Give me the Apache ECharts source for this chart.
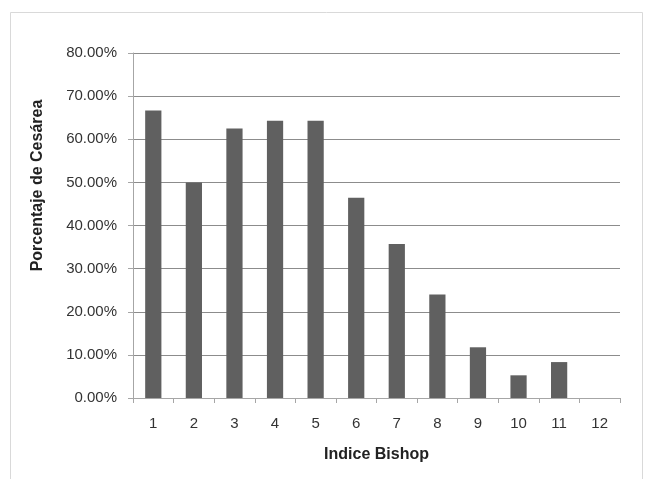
<!DOCTYPE html>
<html>
<head>
<meta charset="utf-8">
<script src="https://cdn.jsdelivr.net/npm/echarts@6/dist/echarts.min.js"></script>
<style>
  html, body { margin: 0; padding: 0; background: #fff; }
  #chart { width: 653px; height: 479px; }
</style>
</head>
<body>
<div id="chart"></div>
<script>
// Bishop score categories and caesarean rate (%) for each
const categories = ['1', '2', '3', '4', '5', '6', '7', '8', '9', '10', '11', '12'];
const cesareaPct = [66.67, 50.0, 62.5, 64.29, 64.29, 46.43, 35.71, 24.0, 11.76, 5.26, 8.33, 0];
const xTitle = 'Indice Bishop';
const yTitle = 'Porcentaje de Cesárea';

const font = '"Liberation Sans", Arial, sans-serif';
const chart = echarts.init(document.getElementById('chart'), null, { renderer: 'canvas' });

chart.setOption({
  animation: false,
  backgroundColor: '#fff',
  graphic: [{
    type: 'rect',
    shape: { x: 10.5, y: 12.5, width: 632, height: 480 },
    style: { fill: 'none', stroke: '#d9d9d9', lineWidth: 1 },
    silent: true
  }],
  grid: { left: 133, right: 33, top: 53, bottom: 81 },
  xAxis: {
    type: 'category',
    data: categories,
    name: xTitle,
    nameLocation: 'middle',
    nameGap: 49,
    nameTextStyle: { fontFamily: font, fontSize: 16, fontWeight: 'bold', color: '#222' },
    axisLine: { lineStyle: { color: '#a6a6a6', width: 1 } },
    axisTick: { show: true, length: 5, lineStyle: { color: '#a6a6a6' } },
    axisLabel: { fontFamily: font, fontSize: 15, color: '#333', margin: 18 },
    splitLine: { show: false }
  },
  yAxis: {
    type: 'value',
    min: 0,
    max: 80,
    interval: 10,
    name: yTitle,
    nameLocation: 'middle',
    nameGap: 87,
    nameRotate: 90,
    nameTextStyle: {
      fontFamily: font, fontSize: 16, fontWeight: 'bold', color: '#222',
      padding: [0, 0, 0, 80]
    },
    axisLine: { show: true, lineStyle: { color: '#a6a6a6', width: 1 } },
    axisTick: { show: true, length: 5, lineStyle: { color: '#a6a6a6' } },
    axisLabel: {
      fontFamily: font, fontSize: 15, color: '#333', margin: 16,
      formatter: v => v.toFixed(2) + '%'
    },
    splitLine: { show: true, lineStyle: { color: '#8c8c8c', width: 1 } }
  },
  series: [{
    type: 'bar',
    data: cesareaPct,
    barCategoryGap: '60%',
    itemStyle: { color: '#606060' }
  }]
});
</script>
</body>
</html>
